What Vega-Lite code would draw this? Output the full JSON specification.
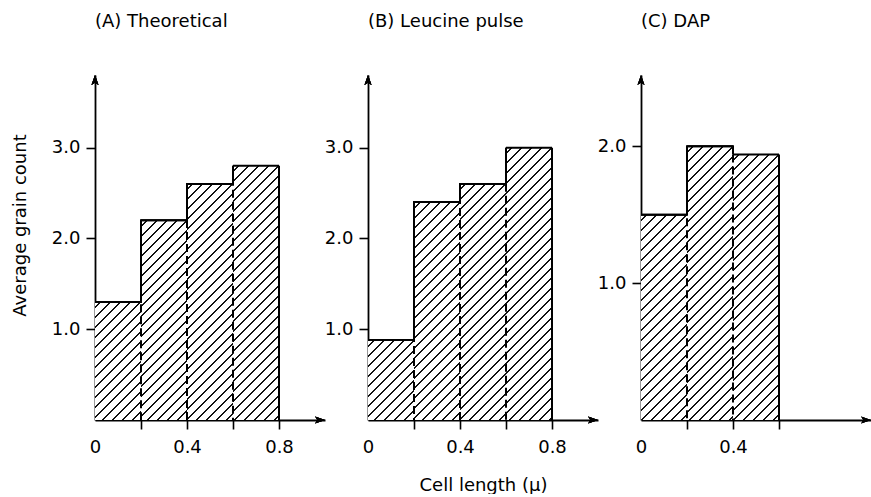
{
  "$schema": "https://vega.github.io/schema/vega-lite/v6.json",
  "padding": {"left": 11, "top": 13, "right": 0, "bottom": 0},
  "params": [
    {"name": "hatch", "value": [
      {"offset":0,"color":"#fff"},
      {"offset":0.0125,"color":"#fff"},{"offset":0.0125,"color":"#111"},{"offset":0.0175,"color":"#111"},{"offset":0.0175,"color":"#fff"},
      {"offset":0.0375,"color":"#fff"},{"offset":0.0375,"color":"#111"},{"offset":0.0425,"color":"#111"},{"offset":0.0425,"color":"#fff"},
      {"offset":0.0625,"color":"#fff"},{"offset":0.0625,"color":"#111"},{"offset":0.0675,"color":"#111"},{"offset":0.0675,"color":"#fff"},
      {"offset":0.0875,"color":"#fff"},{"offset":0.0875,"color":"#111"},{"offset":0.0925,"color":"#111"},{"offset":0.0925,"color":"#fff"},
      {"offset":0.1125,"color":"#fff"},{"offset":0.1125,"color":"#111"},{"offset":0.1175,"color":"#111"},{"offset":0.1175,"color":"#fff"},
      {"offset":0.1375,"color":"#fff"},{"offset":0.1375,"color":"#111"},{"offset":0.1425,"color":"#111"},{"offset":0.1425,"color":"#fff"},
      {"offset":0.1625,"color":"#fff"},{"offset":0.1625,"color":"#111"},{"offset":0.1675,"color":"#111"},{"offset":0.1675,"color":"#fff"},
      {"offset":0.1875,"color":"#fff"},{"offset":0.1875,"color":"#111"},{"offset":0.1925,"color":"#111"},{"offset":0.1925,"color":"#fff"},
      {"offset":0.2125,"color":"#fff"},{"offset":0.2125,"color":"#111"},{"offset":0.2175,"color":"#111"},{"offset":0.2175,"color":"#fff"},
      {"offset":0.2375,"color":"#fff"},{"offset":0.2375,"color":"#111"},{"offset":0.2425,"color":"#111"},{"offset":0.2425,"color":"#fff"},
      {"offset":0.2625,"color":"#fff"},{"offset":0.2625,"color":"#111"},{"offset":0.2675,"color":"#111"},{"offset":0.2675,"color":"#fff"},
      {"offset":0.2875,"color":"#fff"},{"offset":0.2875,"color":"#111"},{"offset":0.2925,"color":"#111"},{"offset":0.2925,"color":"#fff"},
      {"offset":0.3125,"color":"#fff"},{"offset":0.3125,"color":"#111"},{"offset":0.3175,"color":"#111"},{"offset":0.3175,"color":"#fff"},
      {"offset":0.3375,"color":"#fff"},{"offset":0.3375,"color":"#111"},{"offset":0.3425,"color":"#111"},{"offset":0.3425,"color":"#fff"},
      {"offset":0.3625,"color":"#fff"},{"offset":0.3625,"color":"#111"},{"offset":0.3675,"color":"#111"},{"offset":0.3675,"color":"#fff"},
      {"offset":0.3875,"color":"#fff"},{"offset":0.3875,"color":"#111"},{"offset":0.3925,"color":"#111"},{"offset":0.3925,"color":"#fff"},
      {"offset":0.4125,"color":"#fff"},{"offset":0.4125,"color":"#111"},{"offset":0.4175,"color":"#111"},{"offset":0.4175,"color":"#fff"},
      {"offset":0.4375,"color":"#fff"},{"offset":0.4375,"color":"#111"},{"offset":0.4425,"color":"#111"},{"offset":0.4425,"color":"#fff"},
      {"offset":0.4625,"color":"#fff"},{"offset":0.4625,"color":"#111"},{"offset":0.4675,"color":"#111"},{"offset":0.4675,"color":"#fff"},
      {"offset":0.4875,"color":"#fff"},{"offset":0.4875,"color":"#111"},{"offset":0.4925,"color":"#111"},{"offset":0.4925,"color":"#fff"},
      {"offset":0.5125,"color":"#fff"},{"offset":0.5125,"color":"#111"},{"offset":0.5175,"color":"#111"},{"offset":0.5175,"color":"#fff"},
      {"offset":0.5375,"color":"#fff"},{"offset":0.5375,"color":"#111"},{"offset":0.5425,"color":"#111"},{"offset":0.5425,"color":"#fff"},
      {"offset":0.5625,"color":"#fff"},{"offset":0.5625,"color":"#111"},{"offset":0.5675,"color":"#111"},{"offset":0.5675,"color":"#fff"},
      {"offset":0.5875,"color":"#fff"},{"offset":0.5875,"color":"#111"},{"offset":0.5925,"color":"#111"},{"offset":0.5925,"color":"#fff"},
      {"offset":0.6125,"color":"#fff"},{"offset":0.6125,"color":"#111"},{"offset":0.6175,"color":"#111"},{"offset":0.6175,"color":"#fff"},
      {"offset":0.6375,"color":"#fff"},{"offset":0.6375,"color":"#111"},{"offset":0.6425,"color":"#111"},{"offset":0.6425,"color":"#fff"},
      {"offset":0.6625,"color":"#fff"},{"offset":0.6625,"color":"#111"},{"offset":0.6675,"color":"#111"},{"offset":0.6675,"color":"#fff"},
      {"offset":0.6875,"color":"#fff"},{"offset":0.6875,"color":"#111"},{"offset":0.6925,"color":"#111"},{"offset":0.6925,"color":"#fff"},
      {"offset":0.7125,"color":"#fff"},{"offset":0.7125,"color":"#111"},{"offset":0.7175,"color":"#111"},{"offset":0.7175,"color":"#fff"},
      {"offset":0.7375,"color":"#fff"},{"offset":0.7375,"color":"#111"},{"offset":0.7425,"color":"#111"},{"offset":0.7425,"color":"#fff"},
      {"offset":0.7625,"color":"#fff"},{"offset":0.7625,"color":"#111"},{"offset":0.7675,"color":"#111"},{"offset":0.7675,"color":"#fff"},
      {"offset":0.7875,"color":"#fff"},{"offset":0.7875,"color":"#111"},{"offset":0.7925,"color":"#111"},{"offset":0.7925,"color":"#fff"},
      {"offset":0.8125,"color":"#fff"},{"offset":0.8125,"color":"#111"},{"offset":0.8175,"color":"#111"},{"offset":0.8175,"color":"#fff"},
      {"offset":0.8375,"color":"#fff"},{"offset":0.8375,"color":"#111"},{"offset":0.8425,"color":"#111"},{"offset":0.8425,"color":"#fff"},
      {"offset":0.8625,"color":"#fff"},{"offset":0.8625,"color":"#111"},{"offset":0.8675,"color":"#111"},{"offset":0.8675,"color":"#fff"},
      {"offset":0.8875,"color":"#fff"},{"offset":0.8875,"color":"#111"},{"offset":0.8925,"color":"#111"},{"offset":0.8925,"color":"#fff"},
      {"offset":0.9125,"color":"#fff"},{"offset":0.9125,"color":"#111"},{"offset":0.9175,"color":"#111"},{"offset":0.9175,"color":"#fff"},
      {"offset":0.9375,"color":"#fff"},{"offset":0.9375,"color":"#111"},{"offset":0.9425,"color":"#111"},{"offset":0.9425,"color":"#fff"},
      {"offset":0.9625,"color":"#fff"},{"offset":0.9625,"color":"#111"},{"offset":0.9675,"color":"#111"},{"offset":0.9675,"color":"#fff"},
      {"offset":0.9875,"color":"#fff"},{"offset":0.9875,"color":"#111"},{"offset":0.9925,"color":"#111"},{"offset":0.9925,"color":"#fff"},
      {"offset":1,"color":"#fff"}
    ]}
  ],
  "datasets": {
    "A": [
      {"start": 0, "end": 0.2, "value": 1.3},
      {"start": 0.2, "end": 0.4, "value": 2.2},
      {"start": 0.4, "end": 0.6, "value": 2.6},
      {"start": 0.6, "end": 0.8, "value": 2.8}
    ],
    "B": [
      {"start": 0, "end": 0.2, "value": 0.88},
      {"start": 0.2, "end": 0.4, "value": 2.4},
      {"start": 0.4, "end": 0.6, "value": 2.6},
      {"start": 0.6, "end": 0.8, "value": 3.0}
    ],
    "C": [
      {"start": 0, "end": 0.2, "value": 1.5},
      {"start": 0.2, "end": 0.4, "value": 2.0},
      {"start": 0.4, "end": 0.6, "value": 1.94}
    ]
  },
  "spacing": 43,
  "bounds": "flush",
  "hconcat": [
    {
      "width": 230, "height": 345,
      "title": {"text": "(A) Theoretical"},
      "data": {"name": "A"},
      "encoding": {
        "x": {"field": "start", "type": "quantitative", "scale": {"domain": [0, 1], "nice": false, "zero": false},
              "axis": {"title": null, "values": [0, 0.2, 0.4, 0.6, 0.8], "format": ".1f",
                       "labelExpr": "datum.value == 0 ? '0' : ((datum.value == 0.4 || datum.value == 0.8) ? datum.label : '')",
                       "tickOpacity": {"condition": {"test": "datum.value == 0", "value": 0}, "value": 1},
                       "labelPadding": 9, "labelOverlap": false, "labelFlush": false}},
        "y": {"field": "value", "type": "quantitative", "scale": {"domain": [0, 3.8], "nice": false},
              "axis": {"title": "Average grain count", "values": [1, 2, 3], "format": ".1f", "labelPadding": 6, "titlePadding": 22, "titleY": 150}}
      },
      "layer": [
        {"mark": {"type": "bar", "stroke": null, "fill": {"expr": "{gradient: 'linear', x1: 0, y1: 0, x2: 18400 / (2116 + pow(datum.value * 90.79, 2)), y2: 400 * datum.value * 90.79 / (2116 + pow(datum.value * 90.79, 2)), stops: hatch}"}},
         "encoding": {"x2": {"field": "end"}, "y2": {"datum": 0}}},
        {"transform": [{"filter": "datum.start > 0"}],
         "mark": {"type": "rule", "color": "#000", "strokeWidth": 2, "strokeDash": [8, 4]}, "encoding": {"y2": {"datum": 0}}},
        {"mark": {"type": "rule", "color": "#000", "strokeWidth": 2}, "encoding": {"x2": {"field": "end"}}},
        {"mark": {"type": "line", "color": "#000", "strokeWidth": 2, "interpolate": "step-after"}, "encoding": {}},
        {"transform": [{"filter": "datum.end == 0.8"}],
         "mark": {"type": "rule", "color": "#000", "strokeWidth": 2},
         "encoding": {"x": {"field": "end", "type": "quantitative"}, "y2": {"datum": 0}}},
        {"mark": {"type": "point", "shape": "M0,0L0.65,1.8L0,1.4L-0.65,1.8Z", "size": 121, "filled": true, "color": "#000", "opacity": 1},
         "encoding": {"x": {"datum": 0}, "y": {"datum": 3.8}}},
        {"mark": {"type": "point", "shape": "M0,0L0.65,1.8L0,1.4L-0.65,1.8Z", "size": 121, "filled": true, "color": "#000", "opacity": 1, "angle": 90},
         "encoding": {"x": {"datum": 1}, "y": {"datum": 0}}}
      ]
    },
    {
      "width": 230, "height": 345,
      "title": {"text": "(B) Leucine  pulse"},
      "data": {"name": "B"},
      "encoding": {
        "x": {"field": "start", "type": "quantitative", "scale": {"domain": [0, 1], "nice": false, "zero": false},
              "axis": {"title": "Cell length (μ)", "values": [0, 0.2, 0.4, 0.6, 0.8], "format": ".1f",
                       "labelExpr": "datum.value == 0 ? '0' : ((datum.value == 0.4 || datum.value == 0.8) ? datum.label : '')",
                       "tickOpacity": {"condition": {"test": "datum.value == 0", "value": 0}, "value": 1},
                       "labelPadding": 9, "titlePadding": 20, "labelOverlap": false, "labelFlush": false}},
        "y": {"field": "value", "type": "quantitative", "scale": {"domain": [0, 3.8], "nice": false},
              "axis": {"title": null, "values": [1, 2, 3], "format": ".1f", "labelPadding": 6}}
      },
      "layer": [
        {"mark": {"type": "bar", "stroke": null, "fill": {"expr": "{gradient: 'linear', x1: 0, y1: 0, x2: 18400 / (2116 + pow(datum.value * 90.79, 2)), y2: 400 * datum.value * 90.79 / (2116 + pow(datum.value * 90.79, 2)), stops: hatch}"}},
         "encoding": {"x2": {"field": "end"}, "y2": {"datum": 0}}},
        {"transform": [{"filter": "datum.start > 0"}],
         "mark": {"type": "rule", "color": "#000", "strokeWidth": 2, "strokeDash": [8, 4]}, "encoding": {"y2": {"datum": 0}}},
        {"mark": {"type": "rule", "color": "#000", "strokeWidth": 2}, "encoding": {"x2": {"field": "end"}}},
        {"mark": {"type": "line", "color": "#000", "strokeWidth": 2, "interpolate": "step-after"}, "encoding": {}},
        {"transform": [{"filter": "datum.end == 0.8"}],
         "mark": {"type": "rule", "color": "#000", "strokeWidth": 2},
         "encoding": {"x": {"field": "end", "type": "quantitative"}, "y2": {"datum": 0}}},
        {"mark": {"type": "point", "shape": "M0,0L0.65,1.8L0,1.4L-0.65,1.8Z", "size": 121, "filled": true, "color": "#000", "opacity": 1},
         "encoding": {"x": {"datum": 0}, "y": {"datum": 3.8}}},
        {"mark": {"type": "point", "shape": "M0,0L0.65,1.8L0,1.4L-0.65,1.8Z", "size": 121, "filled": true, "color": "#000", "opacity": 1, "angle": 90},
         "encoding": {"x": {"datum": 1}, "y": {"datum": 0}}}
      ]
    },
    {
      "width": 230, "height": 345,
      "title": {"text": "(C) DAP"},
      "data": {"name": "C"},
      "encoding": {
        "x": {"field": "start", "type": "quantitative", "scale": {"domain": [0, 1], "nice": false, "zero": false},
              "axis": {"title": null, "values": [0, 0.2, 0.4, 0.6], "format": ".1f",
                       "labelExpr": "datum.value == 0 ? '0' : (datum.value == 0.4 ? datum.label : '')",
                       "tickOpacity": {"condition": {"test": "datum.value == 0", "value": 0}, "value": 1},
                       "labelPadding": 9, "labelOverlap": false, "labelFlush": false}},
        "y": {"field": "value", "type": "quantitative", "scale": {"domain": [0, 2.52], "nice": false},
              "axis": {"title": null, "values": [1, 2], "format": ".1f", "labelPadding": 6}}
      },
      "layer": [
        {"mark": {"type": "bar", "stroke": null, "fill": {"expr": "{gradient: 'linear', x1: 0, y1: 0, x2: 18400 / (2116 + pow(datum.value * 136.9, 2)), y2: 400 * datum.value * 136.9 / (2116 + pow(datum.value * 136.9, 2)), stops: hatch}"}},
         "encoding": {"x2": {"field": "end"}, "y2": {"datum": 0}}},
        {"transform": [{"filter": "datum.start > 0"}],
         "mark": {"type": "rule", "color": "#000", "strokeWidth": 2, "strokeDash": [8, 4]}, "encoding": {"y2": {"datum": 0}}},
        {"mark": {"type": "rule", "color": "#000", "strokeWidth": 2}, "encoding": {"x2": {"field": "end"}}},
        {"mark": {"type": "line", "color": "#000", "strokeWidth": 2, "interpolate": "step-after"}, "encoding": {}},
        {"transform": [{"filter": "datum.end == 0.6"}],
         "mark": {"type": "rule", "color": "#000", "strokeWidth": 2},
         "encoding": {"x": {"field": "end", "type": "quantitative"}, "y2": {"datum": 0}}},
        {"mark": {"type": "point", "shape": "M0,0L0.65,1.8L0,1.4L-0.65,1.8Z", "size": 121, "filled": true, "color": "#000", "opacity": 1},
         "encoding": {"x": {"datum": 0}, "y": {"datum": 2.52}}},
        {"mark": {"type": "point", "shape": "M0,0L0.65,1.8L0,1.4L-0.65,1.8Z", "size": 121, "filled": true, "color": "#000", "opacity": 1, "angle": 90},
         "encoding": {"x": {"datum": 1}, "y": {"datum": 0}}}
      ]
    }
  ],
  "config": {
    "font": "DejaVu Sans",
    "view": {"stroke": null},
    "axis": {
      "grid": false, "zindex": 1,
      "domainColor": "#000", "domainWidth": 1.8,
      "tickColor": "#000", "tickWidth": 1.6, "tickSize": 9,
      "labelColor": "#000", "labelFont": "DejaVu Sans", "labelFontSize": 18,
      "titleColor": "#000", "titleFont": "DejaVu Sans", "titleFontSize": 18, "titleFontWeight": "normal"
    },
    "title": {"font": "DejaVu Sans", "fontSize": 18, "fontWeight": "normal", "color": "#000", "anchor": "start", "frame": "group", "offset": 44}
  }
}
